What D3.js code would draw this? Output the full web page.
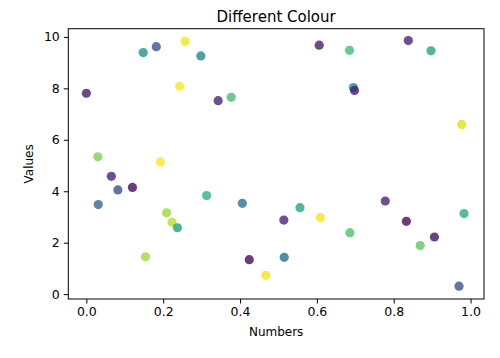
<!DOCTYPE html>
<html>
<head>
<meta charset="utf-8">
<script src="https://cdn.jsdelivr.net/npm/d3@7/dist/d3.min.js"></script>
<style>
  html, body { margin: 0; padding: 0; background: #fff; }
  svg { display: block; font-family: "DejaVu Sans", sans-serif; }
</style>
</head>
<body>
<svg id="chart" width="500" height="358"></svg>
<script>
const xValues = [0.000, 0.030, 0.031, 0.065, 0.082, 0.120, 0.148, 0.154, 0.182, 0.193,
                 0.209, 0.223, 0.237, 0.243, 0.257, 0.298, 0.313, 0.343, 0.377, 0.406,
                 0.424, 0.467, 0.514, 0.515, 0.556, 0.606, 0.609, 0.685, 0.686, 0.695,
                 0.698, 0.778, 0.833, 0.838, 0.869, 0.897, 0.906, 0.970, 0.977, 0.983];
const yValues = [7.81, 5.34, 3.48, 4.58, 4.05, 4.15, 9.39, 1.45, 9.62, 5.14,
                 3.16, 2.79, 2.58, 8.08, 9.83, 9.26, 3.83, 7.52, 7.65, 3.53,
                 1.34, 0.73, 2.88, 1.43, 3.36, 9.68, 2.98, 9.48, 2.39, 8.03,
                 7.92, 3.62, 2.83, 9.86, 1.89, 9.46, 2.22, 0.31, 6.60, 3.13];
const colourValues = [0.08, 0.80, 0.35, 0.10, 0.25, 0.03, 0.50, 0.85, 0.25, 1.00,
                      0.85, 0.90, 0.58, 1.00, 0.98, 0.47, 0.65, 0.10, 0.70, 0.38,
                      0.03, 0.98, 0.10, 0.38, 0.60, 0.08, 0.98, 0.70, 0.72, 0.45,
                      0.08, 0.10, 0.03, 0.10, 0.75, 0.60, 0.05, 0.25, 0.95, 0.62];
const xTicks = [0.0, 0.2, 0.4, 0.6, 0.8, 1.0];
const yTicks = [0, 2, 4, 6, 8, 10];
const title = "Different Colour";
const xLabel = "Numbers";
const yLabel = "Values";

const svg = d3.select("#chart");
const mLeft = 68.3, mRight = 484, mTop = 28.7, mBottom = 299;

const x = d3.scaleLinear().domain([-0.047, 1.035]).range([mLeft, mRight]);
const y = d3.scaleLinear().domain([-0.19, 10.32]).range([mBottom, mTop]);
const colour = d3.scaleSequential(d3.interpolateViridis).domain([0, 1]);

const data = xValues.map((v, i) => ({x: v, y: yValues[i], c: colourValues[i]}));

svg.append("g").selectAll("circle").data(data).join("circle")
  .attr("cx", d => x(d.x))
  .attr("cy", d => y(d.y))
  .attr("r", 4.6)
  .attr("fill", d => colour(d.c))
  .attr("fill-opacity", 0.8);

svg.append("rect")
  .attr("x", mLeft).attr("y", mTop)
  .attr("width", mRight - mLeft).attr("height", mBottom - mTop)
  .attr("fill", "none").attr("stroke", "#000").attr("stroke-width", 1);

const xAxis = d3.axisBottom(x).tickValues(xTicks).tickFormat(d3.format(".1f")).tickSizeOuter(0).tickSize(4.5).tickPadding(4);
const gx = svg.append("g").attr("transform", `translate(0,${mBottom})`).call(xAxis);
gx.select(".domain").remove();
gx.selectAll("text").attr("font-size", 12.5).attr("font-family", "DejaVu Sans, sans-serif").attr("fill", "#000");

const yAxis = d3.axisLeft(y).tickValues(yTicks).tickFormat(d3.format("d")).tickSizeOuter(0).tickSize(4.5).tickPadding(4);
const gy = svg.append("g").attr("transform", `translate(${mLeft},0)`).call(yAxis);
gy.select(".domain").remove();
gy.selectAll("text").attr("font-size", 12.5).attr("font-family", "DejaVu Sans, sans-serif").attr("fill", "#000");

svg.append("text")
  .attr("x", (mLeft + mRight) / 2).attr("y", 22)
  .attr("text-anchor", "middle").attr("font-size", 15).attr("fill", "#000")
  .text(title);

svg.append("text")
  .attr("x", (mLeft + mRight) / 2).attr("y", 336)
  .attr("text-anchor", "middle").attr("font-size", 12).attr("fill", "#000")
  .text(xLabel);

svg.append("text")
  .attr("transform", `translate(33,${(mTop + mBottom) / 2}) rotate(-90)`)
  .attr("text-anchor", "middle").attr("font-size", 12).attr("fill", "#000")
  .text(yLabel);
</script>
</body>
</html>
